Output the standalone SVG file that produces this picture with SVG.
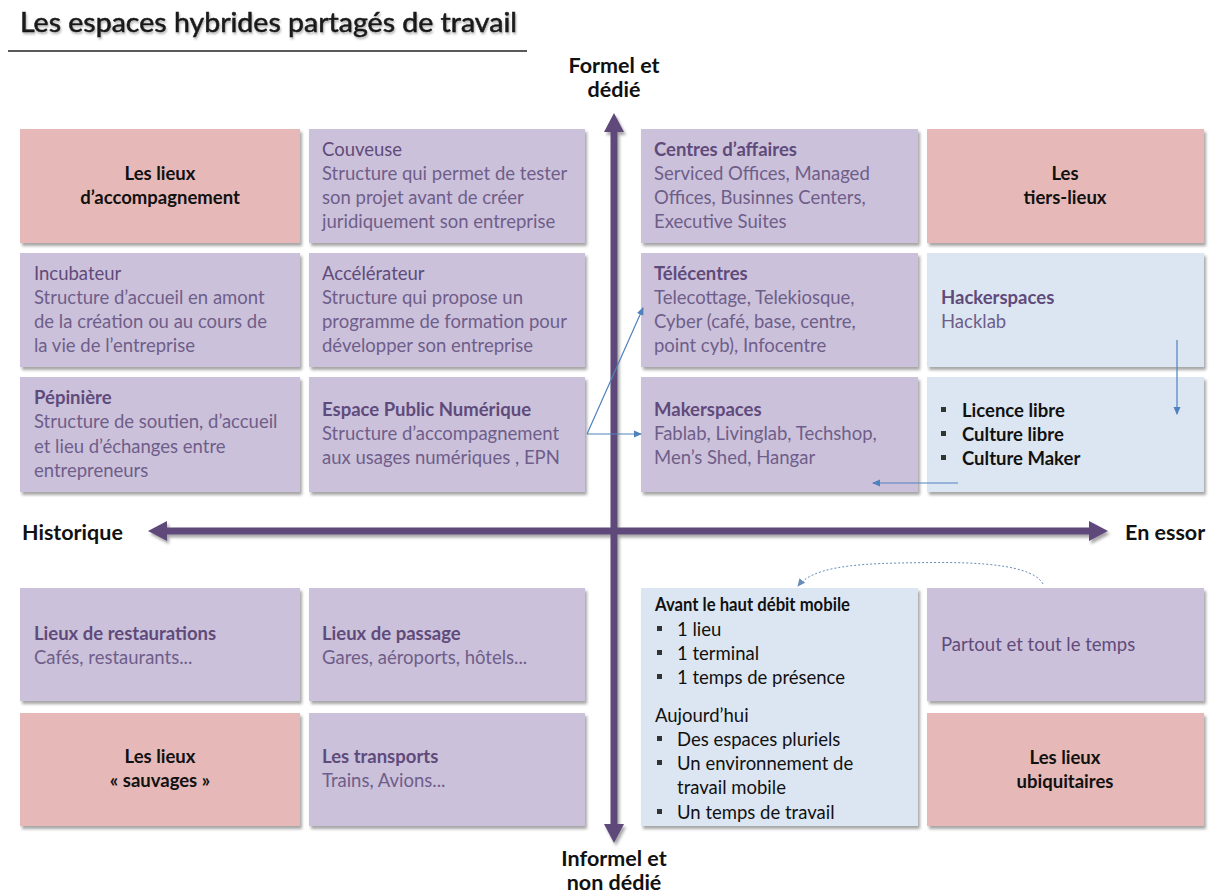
<svg xmlns="http://www.w3.org/2000/svg" width="1216" height="895" viewBox="0 0 1216 895">
<style>
text{font-family:Lato,"Open Sans","Liberation Sans",sans-serif;}
.pink{fill:#E6B9B8;}
.purple{fill:#CCC1DA;}
.blue{fill:#DCE6F2;}
.h{font-size:18.5px;font-weight:bold;fill:#5F4B7B;}
.hr{font-size:18.5px;fill:#5F4B7B;}
.b{font-size:18.5px;fill:#6E5E8A;}
.k{font-size:18.5px;font-weight:bold;fill:#111;}
.kc{font-size:18.5px;font-weight:bold;fill:#111;text-anchor:middle;}
.kn{font-size:18.5px;fill:#111;}
.ax{font-size:21.5px;font-weight:bold;fill:#111;}
.axc{font-size:21.5px;font-weight:bold;fill:#111;text-anchor:middle;}
.bul{fill:#333;}
.conn{stroke:#4F81BD;stroke-width:1.2;fill:none;}
</style>
<defs>
<filter id="sh" x="-5%" y="-5%" width="112%" height="115%">
<feDropShadow dx="2" dy="3" stdDeviation="1.8" flood-color="#000" flood-opacity="0.35"/>
</filter>
<filter id="tsh" x="-5%" y="-20%" width="110%" height="160%">
<feDropShadow dx="1" dy="2" stdDeviation="1.2" flood-color="#000" flood-opacity="0.3"/>
</filter>
<marker id="ah" markerWidth="8" markerHeight="8" refX="7" refY="4" orient="auto" markerUnits="userSpaceOnUse">
<path d="M0,0.5 L8,4 L0,7.5 Z" fill="#4F81BD"/>
</marker>
<marker id="ahd" markerWidth="8" markerHeight="8" refX="7" refY="4" orient="auto" markerUnits="userSpaceOnUse">
<path d="M0,0.5 L8,4 L0,7.5 Z" fill="#6A8CB8"/>
</marker>
</defs>
<rect width="1216" height="895" fill="#fff"/>

<g id="title">
<text x="20" y="32" font-size="26" fill="#1a1a1a" stroke="#1a1a1a" stroke-width="0.5" textLength="497" lengthAdjust="spacingAndGlyphs" filter="url(#tsh)">Les espaces hybrides partagés de travail</text>
<line x1="8" y1="51" x2="527" y2="51" stroke="#222" stroke-width="1.5"/>
</g>

<g id="axes" filter="url(#sh)">
<line x1="614" y1="128" x2="614" y2="828" stroke="#5F497A" stroke-width="7"/>
<path d="M614,113 L624,132 L604,132 Z" fill="#5F497A"/>
<path d="M614,843 L624,824 L604,824 Z" fill="#5F497A"/>
<line x1="162" y1="531" x2="1094" y2="531" stroke="#5F497A" stroke-width="7"/>
<path d="M148,531 L167,521 L167,541 Z" fill="#5F497A"/>
<path d="M1108,531 L1089,521 L1089,541 Z" fill="#5F497A"/>
</g>
<g id="axis-labels">
<text class="axc" x="614" y="73">Formel et</text>
<text class="axc" x="614" y="97">dédié</text>
<text class="ax" x="22" y="540">Historique</text>
<text class="ax" x="1125" y="540">En essor</text>
<text class="axc" x="614" y="866">Informel et</text>
<text class="axc" x="614" y="890">non dédié</text>
</g>

<g id="n-accompagnement"><rect class="pink" x="20" y="129" width="280" height="114" filter="url(#sh)"/>
<text class="kc" x="160" y="180">Les lieux</text><text class="kc" x="160" y="204">d’accompagnement</text></g>

<g id="n-couveuse"><rect class="purple" x="309" y="129" width="276" height="114" filter="url(#sh)"/>
<text class="hr" x="322" y="156">Couveuse</text>
<text class="b" x="322" y="180">Structure qui permet de tester</text>
<text class="b" x="322" y="204">son projet avant de créer</text>
<text class="b" x="322" y="228">juridiquement son entreprise</text></g>

<g id="n-incubateur"><rect class="purple" x="20" y="253" width="280" height="114" filter="url(#sh)"/>
<text class="hr" x="34" y="280">Incubateur</text>
<text class="b" x="34" y="304">Structure d’accueil en amont</text>
<text class="b" x="34" y="328">de la création ou au cours de</text>
<text class="b" x="34" y="352">la vie de l’entreprise</text></g>

<g id="n-accelerateur"><rect class="purple" x="309" y="253" width="276" height="114" filter="url(#sh)"/>
<text class="hr" x="322" y="280">Accélérateur</text>
<text class="b" x="322" y="304">Structure qui propose un</text>
<text class="b" x="322" y="328">programme de formation pour</text>
<text class="b" x="322" y="352">développer son entreprise</text></g>

<g id="n-pepiniere"><rect class="purple" x="20" y="377" width="280" height="115" filter="url(#sh)"/>
<text class="h" x="34" y="404">Pépinière</text>
<text class="b" x="34" y="428">Structure de soutien, d’accueil</text>
<text class="b" x="34" y="453">et lieu d’échanges entre</text>
<text class="b" x="34" y="477">entrepreneurs</text></g>

<g id="n-epn"><rect class="purple" x="309" y="377" width="276" height="115" filter="url(#sh)"/>
<text class="h" x="322" y="416">Espace Public Numérique</text>
<text class="b" x="322" y="440">Structure d’accompagnement</text>
<text class="b" x="322" y="464">aux usages numériques , EPN</text></g>

<g id="n-centres"><rect class="purple" x="641" y="129" width="277" height="114" filter="url(#sh)"/>
<text class="h" x="654" y="156">Centres d’affaires</text>
<text class="b" x="654" y="180">Serviced Offices, Managed</text>
<text class="b" x="654" y="204">Offices, Businnes Centers,</text>
<text class="b" x="654" y="228">Executive Suites</text></g>

<g id="n-tiers-lieux"><rect class="pink" x="927" y="129" width="277" height="114" filter="url(#sh)"/>
<text class="kc" x="1065" y="180">Les</text><text class="kc" x="1065" y="204">tiers-lieux</text></g>

<g id="n-telecentres"><rect class="purple" x="641" y="253" width="277" height="114" filter="url(#sh)"/>
<text class="h" x="654" y="280">Télécentres</text>
<text class="b" x="654" y="304">Telecottage, Telekiosque,</text>
<text class="b" x="654" y="328">Cyber (café, base, centre,</text>
<text class="b" x="654" y="352">point cyb), Infocentre</text></g>

<g id="n-hackerspaces"><rect class="blue" x="927" y="253" width="277" height="114" filter="url(#sh)"/>
<text class="h" x="941" y="304">Hackerspaces</text>
<text class="b" x="941" y="328">Hacklab</text></g>

<g id="n-makerspaces"><rect class="purple" x="641" y="377" width="277" height="115" filter="url(#sh)"/>
<text class="h" x="654" y="416">Makerspaces</text>
<text class="b" x="654" y="440">Fablab, Livinglab, Techshop,</text>
<text class="b" x="654" y="464">Men’s Shed, Hangar</text></g>

<g id="n-libre"><rect class="blue" x="927" y="377" width="277" height="115" filter="url(#sh)"/>
<rect class="bul" x="941" y="407" width="5" height="5"/><text class="k" x="962" y="417">Licence libre</text>
<rect class="bul" x="941" y="431" width="5" height="5"/><text class="k" x="962" y="441">Culture libre</text>
<rect class="bul" x="941" y="455" width="5" height="5"/><text class="k" x="962" y="465">Culture Maker</text></g>

<g id="n-restauration"><rect class="purple" x="20" y="588" width="280" height="113" filter="url(#sh)"/>
<text class="h" x="34" y="640">Lieux de restaurations</text>
<text class="b" x="34" y="664">Cafés, restaurants...</text></g>

<g id="n-passage"><rect class="purple" x="309" y="588" width="276" height="113" filter="url(#sh)"/>
<text class="h" x="322" y="640">Lieux de passage</text>
<text class="b" x="322" y="664">Gares, aéroports, hôtels...</text></g>

<g id="n-sauvages"><rect class="pink" x="20" y="713" width="280" height="113" filter="url(#sh)"/>
<text class="kc" x="160" y="763">Les lieux</text><text class="kc" x="160" y="787">« sauvages »</text></g>

<g id="n-transports"><rect class="purple" x="309" y="713" width="276" height="113" filter="url(#sh)"/>
<text class="h" x="322" y="763">Les transports</text>
<text class="b" x="322" y="787">Trains, Avions...</text></g>

<g id="n-mobile"><rect class="blue" x="641" y="588" width="277" height="238" filter="url(#sh)"/>
<text class="k" x="655" y="611" textLength="195" lengthAdjust="spacingAndGlyphs">Avant le haut débit mobile</text>
<rect class="bul" x="657" y="626" width="5" height="5"/><text class="kn" x="677" y="636">1 lieu</text>
<rect class="bul" x="657" y="650" width="5" height="5"/><text class="kn" x="677" y="660">1 terminal</text>
<rect class="bul" x="657" y="674" width="5" height="5"/><text class="kn" x="677" y="684">1 temps de présence</text>
<text class="kn" x="655" y="722">Aujourd’hui</text>
<rect class="bul" x="657" y="736" width="5" height="5"/><text class="kn" x="677" y="746">Des espaces pluriels</text>
<rect class="bul" x="657" y="760" width="5" height="5"/><text class="kn" x="677" y="770">Un environnement de</text>
<text class="kn" x="677" y="794">travail mobile</text>
<rect class="bul" x="657" y="809" width="5" height="5"/><text class="kn" x="677" y="819">Un temps de travail</text></g>

<g id="n-partout"><rect class="purple" x="927" y="588" width="277" height="113" filter="url(#sh)"/>
<text class="hr" x="941" y="651">Partout et tout le temps</text></g>

<g id="n-ubiquitaires"><rect class="pink" x="927" y="713" width="277" height="113" filter="url(#sh)"/>
<text class="kc" x="1065" y="764">Les lieux</text><text class="kc" x="1065" y="788">ubiquitaires</text></g>

<g id="connectors">
<path class="conn" d="M587,434 L643,308" marker-end="url(#ah)"/>
<path class="conn" d="M587,434 L641,434" marker-end="url(#ah)"/>
<path class="conn" d="M1177,340 L1177,414" marker-end="url(#ah)"/>
<path class="conn" d="M958,483 L873,483" marker-end="url(#ah)"/>
<path d="M1043,584 C1030,560 950,562 900,563 C850,564 812,568 798,586" stroke="#6A8CB8" stroke-width="1" stroke-dasharray="2,2" fill="none" marker-end="url(#ahd)"/>
</g>
</svg>
